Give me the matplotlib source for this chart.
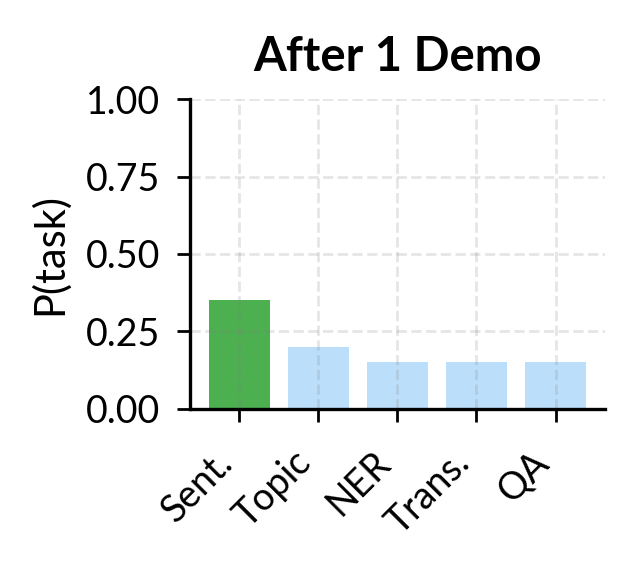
import matplotlib
matplotlib.use("Agg")
import matplotlib.pyplot as plt
import numpy as np

tasks = ["Sent.", "Topic", "NER", "Trans.", "QA"]
probs = [0.35, 0.20, 0.15, 0.15, 0.15]
colors = ["#4caf50", "#bbdefb", "#bbdefb", "#bbdefb", "#bbdefb"]
yticks = [0.00, 0.25, 0.50, 0.75, 1.00]

plt.rcParams['font.family'] = ['Lato', 'DejaVu Sans']

fig = plt.figure(figsize=(3.17, 2.87), dpi=200)
ax = fig.add_axes([0.2997, 0.2875, 0.6543, 0.54])

x = np.arange(len(tasks))
ax.bar(x, probs, width=0.77, color=colors)
ax.grid(True, linestyle='--', color='gray', alpha=0.2, linewidth=1.0)
ax.set_ylim(0, 1)
ax.set_yticks(yticks)
ax.set_yticklabels([f"{v:.2f}" for v in yticks], fontsize=13.5)
ax.set_xticks(x)
ax.set_xticklabels(tasks, rotation=45, ha='right', fontsize=13.5)
ax.tick_params(length=4.7, width=1.0)
ax.tick_params(axis='y', pad=6)
ax.tick_params(axis='x', pad=8)
ax.set_ylabel("P(task)", fontsize=15, labelpad=6)
ax.set_title("After 1 Demo", fontsize=17, fontweight='bold', pad=10)
ax.spines['top'].set_visible(False)
ax.spines['right'].set_visible(False)
ax.spines['left'].set_linewidth(1.2)
ax.spines['bottom'].set_linewidth(1.2)

fig.savefig("out.png", dpi=200)
